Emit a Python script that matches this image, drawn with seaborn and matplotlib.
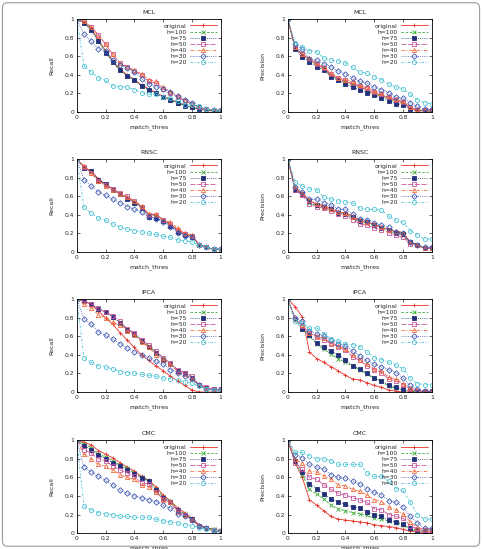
import numpy as np
import pandas as pd
import seaborn as sns
import matplotlib.pyplot as plt
from matplotlib.patches import FancyBboxPatch

thres = [0, 0.05, 0.1, 0.15, 0.2, 0.25, 0.3, 0.35, 0.4, 0.45, 0.5,
         0.55, 0.6, 0.65, 0.7, 0.75, 0.8, 0.85, 0.9, 0.95, 1.0]
labels = ['original', 'h=100', 'h=75', 'h=50', 'h=40', 'h=30', 'h=20']

# MCL
mcl_recall = {
    'original': [1, .97, .90, .78, .66, .55, .46, .40, .35, .29, .25, .21, .17, .14, .10, .07, .05, .03, .02, .01, .01],
    'h=100':    [1, .97, .89, .77, .65, .54, .45, .39, .34, .28, .24, .20, .16, .13, .10, .07, .05, .03, .02, .01, .01],
    'h=75':     [1, .96, .88, .76, .64, .54, .45, .39, .34, .28, .24, .20, .16, .13, .10, .07, .05, .03, .02, .01, .01],
    'h=50':     [1, .98, .92, .83, .73, .62, .53, .48, .44, .40, .33, .31, .25, .21, .16, .12, .09, .05, .03, .02, .02],
    'h=40':     [1, .98, .92, .82, .73, .62, .53, .49, .45, .41, .35, .33, .27, .22, .17, .13, .09, .05, .03, .02, .02],
    'h=30':     [1, .84, .76, .68, .66, .56, .51, .47, .43, .36, .30, .27, .25, .22, .17, .13, .10, .05, .03, .02, .02],
    'h=20':     [1, .50, .43, .37, .34, .28, .27, .27, .24, .21, .19, .19, .16, .15, .12, .08, .08, .06, .03, .02, .02],
}
mcl_precision = {
    'original': [1, .69, .62, .57, .51, .47, .40, .36, .33, .30, .27, .24, .20, .18, .15, .12, .10, .04, .02, .01, .01],
    'h=100':    [1, .69, .61, .56, .50, .46, .39, .35, .32, .29, .26, .23, .19, .17, .14, .11, .09, .04, .02, .01, .01],
    'h=75':     [1, .68, .59, .54, .49, .45, .38, .34, .30, .27, .24, .21, .18, .15, .12, .09, .08, .03, .01, .01, .01],
    'h=50':     [1, .70, .62, .57, .52, .47, .41, .37, .34, .31, .28, .26, .22, .19, .16, .13, .11, .05, .02, .02, .02],
    'h=40':     [1, .70, .63, .58, .53, .48, .42, .37, .35, .33, .29, .27, .23, .21, .17, .14, .12, .05, .03, .02, .02],
    'h=30':     [1, .73, .68, .57, .56, .52, .49, .44, .41, .37, .33, .31, .27, .24, .21, .16, .15, .10, .06, .03, .03],
    'h=20':     [1, .74, .70, .66, .65, .58, .56, .55, .53, .48, .43, .42, .38, .35, .30, .27, .25, .19, .13, .10, .09],
}

# RNSC
rnsc_recall = {
    'original': [1, .92, .87, .79, .73, .68, .63, .58, .54, .49, .41, .40, .35, .30, .24, .20, .18, .08, .05, .03, .03],
    'h=100':    [1, .91, .86, .78, .73, .68, .63, .58, .54, .48, .40, .39, .34, .29, .23, .19, .17, .08, .05, .03, .03],
    'h=75':     [1, .91, .87, .78, .73, .67, .62, .57, .53, .47, .38, .37, .33, .28, .22, .18, .16, .08, .05, .03, .03],
    'h=50':     [1, .92, .85, .77, .72, .68, .64, .60, .55, .49, .40, .40, .35, .30, .24, .19, .17, .08, .05, .03, .03],
    'h=40':     [1, .93, .85, .76, .71, .67, .62, .59, .55, .50, .41, .41, .35, .32, .26, .20, .18, .08, .05, .03, .03],
    'h=30':     [1, .78, .71, .65, .61, .57, .53, .49, .46, .43, .38, .36, .32, .27, .21, .17, .16, .08, .05, .03, .03],
    'h=20':     [1, .48, .42, .37, .34, .30, .27, .25, .23, .22, .20, .19, .17, .16, .13, .12, .11, .07, .05, .03, .03],
}
rnsc_precision = {
    'original': [1, .69, .63, .55, .52, .50, .47, .43, .42, .39, .34, .32, .30, .27, .24, .22, .20, .11, .07, .04, .04],
    'h=100':    [1, .68, .62, .53, .50, .48, .45, .42, .40, .37, .32, .31, .28, .26, .23, .20, .18, .10, .07, .04, .04],
    'h=75':     [1, .67, .62, .55, .51, .48, .46, .42, .41, .38, .33, .32, .29, .26, .24, .21, .19, .11, .07, .04, .04],
    'h=50':     [1, .67, .61, .52, .49, .47, .44, .41, .39, .35, .30, .29, .26, .24, .21, .18, .16, .09, .07, .04, .04],
    'h=40':     [1, .70, .64, .56, .52, .49, .46, .43, .42, .38, .34, .32, .30, .27, .24, .23, .21, .11, .07, .04, .04],
    'h=30':     [1, .70, .65, .57, .57, .53, .51, .46, .46, .41, .36, .35, .31, .29, .27, .22, .21, .11, .08, .05, .05],
    'h=20':     [1, .75, .71, .68, .67, .59, .57, .55, .54, .53, .47, .46, .46, .45, .39, .34, .32, .23, .18, .14, .14],
}

# IPCA
ipca_recall = {
    'original': [1, .98, .94, .87, .80, .73, .64, .56, .48, .40, .34, .28, .23, .17, .12, .07, .02, .00, .00, .00, .00],
    'h=100':    [1, .98, .95, .90, .86, .81, .75, .68, .63, .55, .50, .43, .37, .31, .24, .21, .16, .08, .04, .03, .03],
    'h=75':     [1, .98, .95, .89, .86, .81, .74, .67, .63, .55, .49, .42, .35, .30, .23, .20, .15, .07, .04, .03, .03],
    'h=50':     [1, .98, .95, .90, .86, .82, .76, .68, .64, .56, .51, .44, .37, .31, .24, .21, .17, .08, .05, .03, .03],
    'h=40':     [1, .95, .91, .83, .80, .75, .72, .66, .61, .54, .48, .40, .34, .30, .22, .19, .14, .07, .04, .02, .02],
    'h=30':     [1, .79, .73, .65, .61, .57, .52, .47, .43, .40, .37, .33, .30, .24, .21, .17, .14, .07, .03, .02, .02],
    'h=20':     [1, .37, .32, .28, .27, .25, .22, .21, .20, .19, .18, .17, .15, .14, .13, .11, .10, .06, .03, .02, .02],
}
ipca_precision = {
    'original': [1, .92, .81, .43, .36, .32, .27, .23, .18, .14, .13, .10, .07, .05, .02, .01, .00, .00, .00, .00, .00],
    'h=100':    [1, .78, .68, .60, .52, .46, .41, .36, .32, .28, .24, .19, .15, .12, .06, .04, .02, .01, .00, .00, .00],
    'h=75':     [1, .79, .68, .61, .53, .48, .44, .40, .35, .28, .25, .20, .15, .12, .07, .05, .03, .01, .01, .00, .00],
    'h=50':     [1, .79, .71, .64, .59, .56, .52, .49, .45, .38, .34, .28, .24, .21, .14, .12, .08, .03, .01, .01, .01],
    'h=40':     [1, .79, .72, .64, .60, .58, .53, .50, .46, .40, .35, .30, .25, .23, .16, .14, .09, .04, .02, .01, .01],
    'h=30':     [1, .80, .76, .66, .63, .60, .56, .52, .50, .44, .39, .34, .30, .27, .24, .21, .15, .07, .03, .01, .01],
    'h=20':     [1, .76, .74, .69, .69, .63, .57, .55, .52, .51, .49, .43, .37, .35, .32, .29, .25, .15, .09, .08, .08],
}

# CMC
cmc_recall = {
    'original': [1, .98, .95, .89, .85, .81, .76, .71, .67, .61, .57, .50, .41, .35, .27, .22, .16, .09, .06, .04, .03],
    'h=100':    [1, .96, .92, .85, .82, .78, .73, .70, .65, .60, .56, .48, .39, .35, .25, .21, .15, .08, .06, .04, .03],
    'h=75':     [1, .94, .90, .84, .80, .76, .72, .68, .64, .59, .56, .46, .38, .34, .25, .20, .15, .08, .05, .03, .02],
    'h=50':     [1, .90, .86, .80, .78, .72, .68, .65, .61, .54, .53, .44, .37, .33, .24, .19, .14, .08, .05, .03, .02],
    'h=40':     [1, .85, .80, .74, .72, .68, .63, .60, .58, .52, .50, .44, .36, .33, .23, .19, .14, .08, .05, .03, .02],
    'h=30':     [1, .71, .66, .61, .57, .52, .46, .43, .40, .38, .36, .34, .30, .27, .21, .18, .14, .08, .05, .02, .02],
    'h=20':     [1, .29, .25, .22, .21, .20, .18, .18, .17, .17, .17, .15, .13, .12, .11, .09, .08, .06, .04, .03, .02],
}
cmc_precision = {
    'original': [1, .76, .60, .36, .30, .24, .18, .15, .14, .13, .12, .11, .09, .08, .07, .06, .04, .02, .01, .01, .01],
    'h=100':    [1, .77, .63, .47, .42, .37, .30, .26, .24, .22, .21, .19, .16, .15, .13, .11, .09, .04, .02, .02, .02],
    'h=75':     [1, .78, .66, .53, .48, .42, .37, .33, .31, .28, .27, .23, .20, .18, .14, .12, .10, .05, .03, .02, .02],
    'h=50':     [1, .76, .69, .60, .58, .52, .47, .43, .41, .38, .36, .33, .26, .25, .20, .18, .16, .08, .04, .03, .03],
    'h=40':     [1, .80, .75, .67, .66, .62, .58, .52, .51, .47, .45, .41, .36, .34, .28, .25, .21, .12, .06, .04, .04],
    'h=30':     [1, .84, .81, .74, .71, .69, .63, .60, .59, .56, .53, .48, .44, .41, .35, .33, .28, .18, .11, .05, .05],
    'h=20':     [1, .87, .87, .83, .80, .80, .78, .74, .74, .74, .74, .65, .61, .61, .56, .48, .46, .33, .20, .15, .15],
}

colors = {'original': '#e8322a', 'h=100': '#3aaa35', 'h=75': '#23307a',
          'h=50': '#c8559e', 'h=40': '#f26b3a', 'h=30': '#3a55b4', 'h=20': '#4cc4d4'}
markers = {'original': '+', 'h=100': 'x', 'h=75': 's', 'h=50': 's',
           'h=40': '^', 'h=30': 'D', 'h=20': 'o'}
filled = {'original': True, 'h=100': True, 'h=75': True, 'h=50': False,
          'h=40': False, 'h=30': False, 'h=20': False}
styles = {'original': '-', 'h=100': (0, (3, 2)), 'h=75': (0, (1, 1.5)),
          'h=50': (0, (6, 2)), 'h=40': (0, (4, 2, 1, 2)), 'h=30': (0, (1, 1.5)),
          'h=20': (0, (3, 2, 1, 2))}
msizes = {'original': 3.5, 'h=100': 2.8, 'h=75': 2.2, 'h=50': 3.2,
          'h=40': 3.0, 'h=30': 2.8, 'h=20': 3.0}

sns.set_style('ticks')
plt.rcParams['font.family'] = ['DejaVu Sans']
plt.rcParams['xtick.direction'] = 'in'
plt.rcParams['ytick.direction'] = 'in'

fig = plt.figure(figsize=(4.83, 5.49), dpi=100)
fig.patch.set_facecolor('white')

panels = [('MCL', mcl_recall, mcl_precision),
          ('RNSC', rnsc_recall, rnsc_precision),
          ('IPCA', ipca_recall, ipca_precision),
          ('CMC', cmc_recall, cmc_precision)]
bottoms = [0.796, 0.541, 0.286, 0.029]
lefts = [0.159, 0.596]
w, h = 0.298, 0.169

for row, (name, rec, prec) in enumerate(panels):
    for col, (vals, ylab) in enumerate([(rec, 'Recall'), (prec, 'Precision')]):
        ax = fig.add_axes([lefts[col], bottoms[row], w, h])
        for lab in labels:
            df = pd.DataFrame({'match_thres': thres, 'v': vals[lab]})
            sns.lineplot(data=df, x='match_thres', y='v', ax=ax, label=lab,
                         color=colors[lab], marker=markers[lab],
                         linestyle=styles[lab], linewidth=0.6,
                         markersize=msizes[lab], markeredgewidth=0.6,
                         markerfacecolor=colors[lab] if filled[lab] else 'none',
                         markeredgecolor=colors[lab])
        ax.set_xlim(0, 1)
        ax.set_ylim(0, 1)
        ticks = [0, 0.2, 0.4, 0.6, 0.8, 1]
        ax.set_xticks(ticks)
        ax.set_yticks(ticks)
        ax.set_xticklabels(['0', '0.2', '0.4', '0.6', '0.8', '1'])
        ax.set_yticklabels(['0', '0.2', '0.4', '0.6', '0.8', '1'])
        ax.tick_params(labelsize=4.3, length=2.5, width=0.5, pad=2,
                       top=True, right=True)
        for sp in ax.spines.values():
            sp.set_linewidth(0.6)
            sp.set_color('black')
            sp.set_visible(True)
        ax.set_title(name, fontsize=4.5, pad=4)
        ax.set_xlabel('match_thres', fontsize=4.5, labelpad=3)
        ax.set_ylabel(ylab, fontsize=4.5, labelpad=7)
        ax.legend(loc='upper right', fontsize=4.3, frameon=False,
                  markerfirst=False, handlelength=4.5, labelspacing=0.15,
                  borderaxespad=0.3, handletextpad=0.5)

fig.patches.append(FancyBboxPatch((0.005, 0.005), 0.988, 0.99,
                                  boxstyle='round,pad=0,rounding_size=0.01',
                                  transform=fig.transFigure, fill=False,
                                  edgecolor='#9a9a9a', linewidth=0.8))

fig.savefig('out.png', dpi=100)
